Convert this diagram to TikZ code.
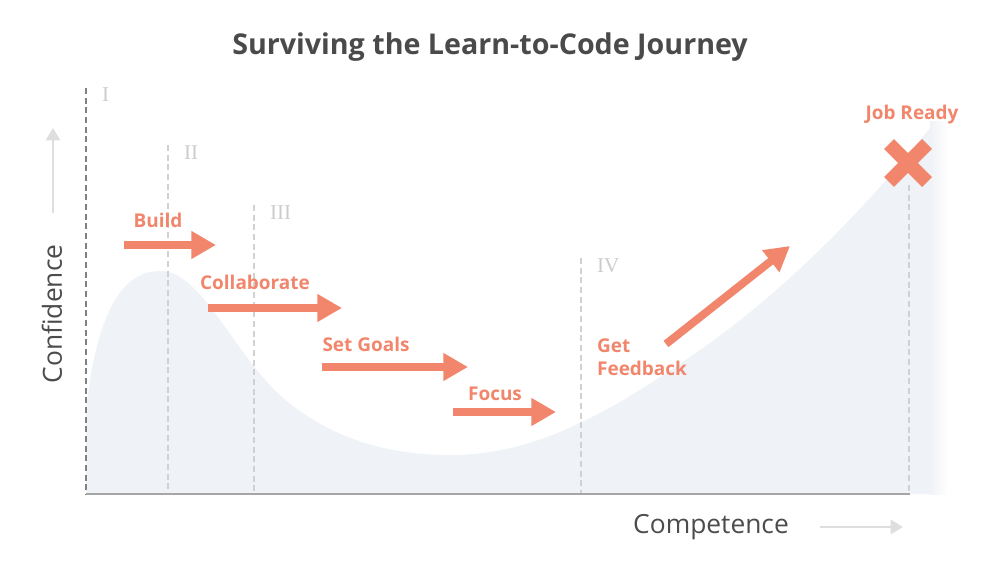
\documentclass[tikz,border=0pt]{standalone}
\usepackage{fontspec}
\setmainfont{Open Sans}
\newfontfamily\romanfont{Liberation Serif}
\usetikzlibrary{arrows.meta,positioning}
\definecolor{salmon}{RGB}{241,134,108}
\definecolor{ink}{RGB}{74,74,74}
\definecolor{hintgray}{RGB}{222,222,222}
\definecolor{curvefill}{RGB}{239,242,246}
\tikzset{
  move/.style={
    line width=4.5pt,
    draw=salmon,
    -{Triangle[length=14pt,width=15pt]}
  },
  hint/.style={
    line width=1.6pt,
    draw=hintgray,
    -{Triangle[length=7pt,width=8pt]}
  },
  tag/.style={
    text=salmon,
    font=\fontsize{10.8}{13}\selectfont\bfseries,
    inner sep=1pt
  },
  stage/.style={
    text=black!20,
    font=\romanfont\fontsize{12}{14}\selectfont,
    inner sep=1pt,
    anchor=west
  },
  phase/.style={
    dash pattern=on 3.5pt off 2pt,
    draw=black!18,
    line width=0.7pt
  },
  axislabel/.style={
    text=black!70,
    font=\fontsize{15}{18}\selectfont
  }
}

\begin{document}
\begin{tikzpicture}[x=0.02cm,y=-0.02cm]
    \useasboundingbox (0,0) rectangle (1000,570);
    \node[font=\fontsize{16.3}{19}\selectfont\bfseries, text=ink] (title) at (490,47) {Surviving the Learn-to-Code Journey};
    % the curve
    \fill[curvefill] (86,410) .. controls (98,300) and (128,271) .. (160,271)
        .. controls (202,271) and (232,352) .. (282,397)
        .. controls (332,440) and (390,455) .. (450,455)
        .. controls (530,455) and (600,420) .. (700,350)
        .. controls (800,280) and (880,190) .. (930,128)
        -- (930,494) -- (86,494) -- cycle;
    \shade[left color=curvefill, right color=white] (930,122) rectangle (948,494);
    % axes and phases
    \coordinate (o) at (86,494);
    \coordinate (xend) at (910,494);
    \coordinate (ytop) at (86,88);
    \draw[phase, draw=black!50] (ytop) -- (o);
    \node[stage] (sI) at (100,95) {I};
    \foreach \x/\y/\n in {168/145/II, 254/205/III, 581/258/IV}{
        \coordinate (p\n) at (\x,\y);
        \coordinate (q\n) at (\x,494);
        \draw[phase] (p\n) -- (q\n);
        \node[stage] (s\n) at (\x+14,\y+8) {\n};
    }
    \coordinate (pV) at (909,185);
    \coordinate (qV) at (909,494);
    \draw[phase] (pV) -- (qV);
    \draw[black!35, line width=1.1pt] (o) -- (xend);
    % axis labels
    \node[axislabel, rotate=90] (conf) at (52,314) {Confidence};
    \coordinate (c0) at (53,213);
    \coordinate (c1) at (53,128);
    \draw[hint] (c0) -- (c1);
    \node[axislabel] (comp) at (711,527) {Competence};
    \coordinate (k0) at (820,527);
    \coordinate (k1) at (903,527);
    \draw[hint] (k0) -- (k1);
    % steps
    \foreach \n/\xa/\xb/\y/\lx/\ly/\t in {build/124/216/245/158/220/Build,
        collab/208/342/308/255/282/Collaborate,
        goals/322/468/367/366/344/Set Goals,
        focus/453/556/412/495/394/Focus}{
        \coordinate (\n a) at (\xa,\y);
        \coordinate (\n b) at (\xb,\y);
        \draw[move] (\n a) -- (\n b);
        \node[tag] (\n) at (\lx,\ly) {\t};
    }
    \coordinate (feeda) at (666,344);
    \coordinate (feedb) at (790,246);
    \draw[move] (feeda) -- (feedb);
    \node[tag, anchor=west, align=left] (feed) at (595,357) {Get\\Feedback};
    % goal
    \coordinate (jr) at (908,163);
    \draw[salmon, line width=7.9pt] ([shift={(-19,-19)}]jr) -- ([shift={(19,19)}]jr)
        ([shift={(-19,19)}]jr) -- ([shift={(19,-19)}]jr);
    \node[tag] (ready) at (912,115) {Job Ready};
\end{tikzpicture}
\end{document}
